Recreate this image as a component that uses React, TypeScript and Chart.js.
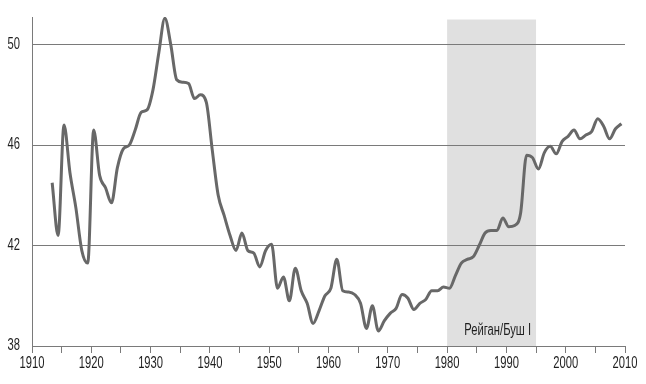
import React, { useEffect, useRef } from "react";
import { Chart, registerables } from "chart.js";

Chart.register(...registerables);

// Annual values, first year = START_YEAR
const START_YEAR = 1913;
const values: number[] = [
  44.5, 42.4, 46.8, 44.9, 43.5, 41.8, 41.3, // 1913-1919
  46.6, 44.8, 44.3, 43.7, 45.1, 45.85, 46.0, 46.6, 47.3, 47.4, // 1920-1929
  48.2, 49.7, 51.05, 50.0, 48.6, 48.5, 48.45, 47.85, 48.0, 47.7, // 1930-1939
  45.8, 44.0, 43.2, 42.4, 41.8, 42.5, 41.8, 41.7, 41.15, 41.8, // 1940-1949
  42.05, 40.3, 40.75, 39.8, 41.1, 40.2, 39.7, 38.9, 39.4, 40.0, // 1950-1959
  40.3, 41.45, 40.2, 40.15, 40.05, 39.7, 38.7, 39.6, 38.6, 39.0, // 1960-1969
  39.3, 39.5, 40.05, 39.9, 39.45, 39.7, 39.85, 40.2, 40.2, 40.35, // 1970-1979
  40.3, 40.8, 41.3, 41.45, 41.55, 42.0, 42.5, 42.6, 42.6, 43.1, // 1980-1989
  42.75, 42.8, 43.3, 45.6, 45.5, 45.05, 45.7, 45.95, 45.65, 46.15, // 1990-1999
  46.35, 46.6, 46.25, 46.4, 46.55, 47.05, 46.75, 46.25, 46.65, 46.85, // 2000-2009
];
const years: number[] = values.map((_, i) => START_YEAR + i);

const xTicks: number[] = [1910, 1915, 1920, 1925, 1930, 1935, 1940, 1945, 1950, 1955, 1960, 1965, 1970, 1975, 1980, 1985, 1990, 1995, 2000, 2005, 2010];
const xLabels: number[] = [1910, 1920, 1930, 1940, 1950, 1960, 1970, 1980, 1990, 2000, 2010];
const yTicks: number[] = [38, 42, 46, 50];

const shadeStart = 1980;
const shadeEnd = 1995;
const shadeTop = 51;
const shadeLabel = "Рейган/Буш I";

const X_MIN = 1910;
const X_MAX = 2010;
const Y_MIN = 38;
const Y_MAX = 51.1;
const YEAR_OFFSET = 0.4; // annual values plotted within the year

const FONT = "'Liberation Sans', Arial, sans-serif";
const SQUEEZE = 0.7; // condensed type
const GRID = "#7a7a7a";
const TEXT = "#1e1e1e";

function drawText(ctx: CanvasRenderingContext2D, text: string, x: number, y: number, align: "left" | "right" | "center", baseline: CanvasTextBaseline, size: number) {
  ctx.save();
  ctx.font = `${size}px ${FONT}`;
  ctx.fillStyle = TEXT;
  ctx.textAlign = align;
  ctx.textBaseline = baseline;
  ctx.translate(x, y);
  ctx.scale(SQUEEZE, 1);
  ctx.fillText(text, 0, 0);
  ctx.restore();
}

const shadePlugin = {
  id: "shade",
  beforeDraw(chart: any) {
    const { ctx, chartArea, scales } = chart;
    const x0 = scales.x.getPixelForValue(shadeStart);
    const x1 = scales.x.getPixelForValue(shadeEnd);
    const yT = scales.y.getPixelForValue(shadeTop);
    ctx.save();
    ctx.fillStyle = "#e0e0e0";
    ctx.fillRect(x0, yT, x1 - x0, chartArea.bottom - yT);
    ctx.restore();
  },
  afterDraw(chart: any) {
    const { ctx, chartArea, scales } = chart;
    const x1 = scales.x.getPixelForValue(shadeEnd);
    drawText(ctx, shadeLabel, x1 - 5, chartArea.bottom - 11, "right", "alphabetic", 16);
    xLabels.forEach((v) => {
      drawText(ctx, String(v), scales.x.getPixelForValue(v), chartArea.bottom + 22, "center", "alphabetic", 16);
    });
    yTicks.forEach((v) => {
      drawText(ctx, String(v), chartArea.left - 12, scales.y.getPixelForValue(v) + 4, "right", "alphabetic", 16);
    });
  },
};

export default function App() {
  const ref = useRef<HTMLCanvasElement | null>(null);
  useEffect(() => {
    if (!ref.current) return;
    const chart = new Chart(ref.current, {
      type: "line",
      data: {
        datasets: [
          {
            data: years.map((y, i) => ({ x: y + YEAR_OFFSET, y: values[i] })),
            borderColor: "#686868",
            borderWidth: 3,
            pointRadius: 0,
            cubicInterpolationMode: "monotone",
            fill: false,
          },
        ],
      },
      options: {
        responsive: false,
        animation: false,
        layout: { padding: { top: 17, right: 21, left: 0, bottom: 0 } },
        plugins: { legend: { display: false }, tooltip: { enabled: false } },
        scales: {
          x: {
            type: "linear",
            min: X_MIN,
            max: X_MAX,
            afterBuildTicks: (s: any) => {
              s.ticks = xTicks.map((v) => ({ value: v }));
            },
            afterFit: (s: any) => {
              s.height = 38;
            },
            border: { display: true, color: GRID, width: 1 },
            grid: { display: true, drawOnChartArea: false, drawTicks: true, tickLength: 7, color: GRID },
            ticks: { display: false, autoSkip: false },
          },
          y: {
            type: "linear",
            min: Y_MIN,
            max: Y_MAX,
            afterBuildTicks: (s: any) => {
              s.ticks = yTicks.map((v) => ({ value: v }));
            },
            afterFit: (s: any) => {
              s.width = 32;
            },
            border: { display: true, color: GRID, width: 1 },
            grid: {
              drawTicks: false,
              color: (c: any) => (c.tick && c.tick.value === Y_MIN ? "rgba(0,0,0,0)" : GRID),
            },
            ticks: { display: false },
          },
        },
      },
      plugins: [shadePlugin],
    } as any);
    return () => chart.destroy();
  }, []);
  return (
    <div style={{ position: "fixed", left: 0, top: 0, width: 646, height: 384, background: "#fff" }}>
      <canvas ref={ref} width={646} height={384} style={{ width: 646, height: 384 }} />
    </div>
  );
}
